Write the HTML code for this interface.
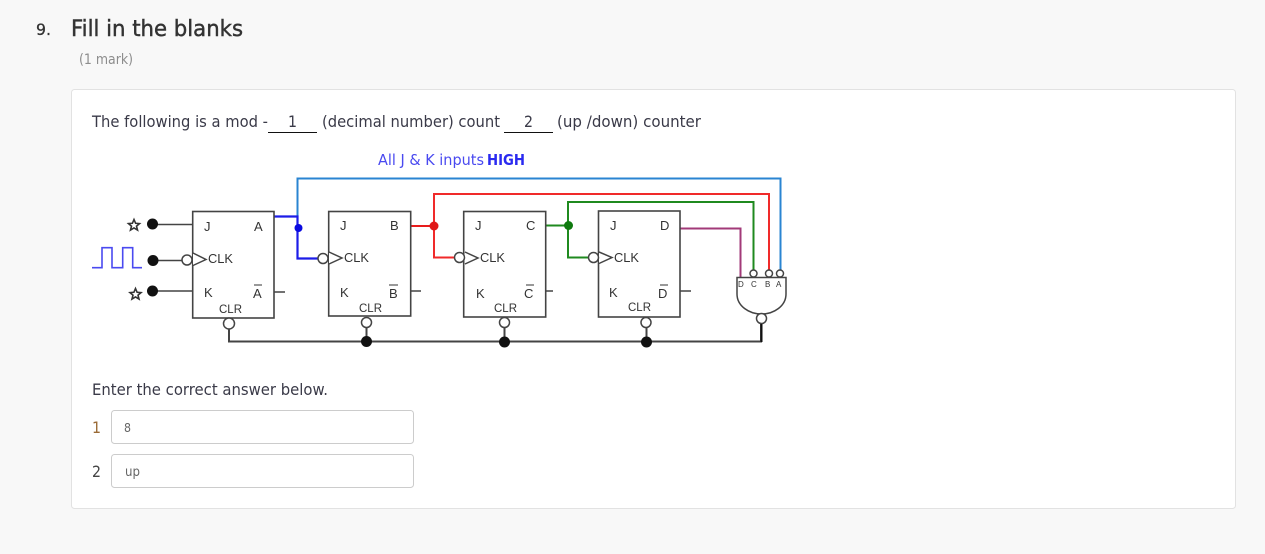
<!DOCTYPE html>
<html>
<head>
<meta charset="utf-8">
<style>
html,body{margin:0;padding:0;width:1265px;height:554px;overflow:hidden;background:#f8f8f8}
svg{display:block}
.u{font-family:"DejaVu Sans",sans-serif}
.d{font-family:"Liberation Sans",sans-serif;fill:#333}
</style>
</head>
<body>
<svg width="1265" height="554" viewBox="0 0 1265 554" xmlns="http://www.w3.org/2000/svg">
<rect width="1265" height="554" fill="#f8f8f8"/>
<rect x="71.5" y="89.5" width="1164" height="419" rx="3" fill="#fff" stroke="#e2e2e2"/>

<line x1="268" y1="132.5" x2="317" y2="132.5" stroke="#111" stroke-width="1"/>
<line x1="504" y1="132.5" x2="553" y2="132.5" stroke="#111" stroke-width="1"/>
<rect x="111.5" y="410.5" width="302" height="33" rx="3" fill="#fff" stroke="#ccc"/>
<rect x="111.5" y="454.5" width="302" height="33" rx="3" fill="#fff" stroke="#ccc"/>

<g class="u">
<text x="36" y="35" font-size="16" fill="#333" stroke="#333" stroke-width="0.3" textLength="15" lengthAdjust="spacingAndGlyphs">9.</text>
<text x="71" y="36" font-size="22" fill="#333" stroke="#333" stroke-width="0.45" textLength="172" lengthAdjust="spacingAndGlyphs">Fill in the blanks</text>
<text x="79" y="64" font-size="14" fill="#8d8d8d" textLength="54" lengthAdjust="spacingAndGlyphs">(1 mark)</text>
<text x="92" y="127" font-size="16" fill="#3a3a48" textLength="176" lengthAdjust="spacingAndGlyphs">The following is a mod -</text>
<text x="288" y="127" font-size="16" fill="#3a3a48" textLength="9" lengthAdjust="spacingAndGlyphs">1</text>
<text x="322" y="127" font-size="16" fill="#3a3a48" textLength="178" lengthAdjust="spacingAndGlyphs">(decimal number) count</text>
<text x="524" y="127" font-size="16" fill="#3a3a48" textLength="9" lengthAdjust="spacingAndGlyphs">2</text>
<text x="557" y="127" font-size="16" fill="#3a3a48" textLength="144" lengthAdjust="spacingAndGlyphs">(up /down) counter</text>
<text x="378" y="165" font-size="15" fill="#4a4af0" textLength="106" lengthAdjust="spacingAndGlyphs">All J &amp; K inputs</text>
<text x="487" y="165" font-size="15" fill="#2a2af0" font-weight="bold" textLength="38" lengthAdjust="spacingAndGlyphs">HIGH</text>
<text x="92" y="395" font-size="16" fill="#3a3a48" textLength="236" lengthAdjust="spacingAndGlyphs">Enter the correct answer below.</text>
<text x="92" y="433" font-size="16" fill="#9a6a35" textLength="9" lengthAdjust="spacingAndGlyphs">1</text>
<text x="92" y="477" font-size="16" fill="#444" textLength="9" lengthAdjust="spacingAndGlyphs">2</text>
<text x="124" y="432" font-size="12" fill="#666" textLength="7" lengthAdjust="spacingAndGlyphs">8</text>
<text x="125" y="476" font-size="13" fill="#666" textLength="15" lengthAdjust="spacingAndGlyphs">up</text>
</g>

<!-- wires -->
<g fill="none" stroke-width="2">
<path d="M297.5 216V178.5H780.5V270" stroke="#2a84d2"/>
<path d="M274 216.5H297.5V258.5H318" stroke="#1c1ce8" stroke-width="2.2"/>
<path d="M411 226H434" stroke="#e81c1c"/>
<path d="M434 226V194H769V270M434 226V257.5H454" stroke="#f02a2a"/>
<path d="M546 225.5H568" stroke="#1f8a1f"/>
<path d="M568 225.5V202H753.5V270M568 225.5V257.5H589" stroke="#1f8a1f"/>
<path d="M680 228.5H740.5V277" stroke="#a23a78"/>
<path d="M229 324V341.5H761V324" stroke="#444"/>
<path d="M366.5 326V341M504.5 327V341M646.5 327V341" stroke="#444"/>
<path d="M153 224.5H193M153 260.5H183M153 291H192" stroke="#444" stroke-width="1.5"/>
<path d="M273 292H285M410 291H421M541 291H553M680 291H691" stroke="#444" stroke-width="1.5"/>
<path d="M92 267.7H102V247.7H112V267.7H122.7V247.7H132.7V267.7H142" stroke="#4a4af0" stroke-width="1.6"/>
</g>

<!-- stars -->
<g fill="#fff" stroke="#333" stroke-width="1.6" stroke-linejoin="miter">
<polygon points="134,219.5 135.6,223.3 139.5,223.6 136.5,226.2 137.5,230 134,227.9 130.5,230 131.5,226.2 128.5,223.6 132.4,223.3"/>
<polygon points="135.5,288.5 137.1,292.3 141,292.6 138,295.2 139,299 135.5,296.9 132,299 133,295.2 130,292.6 133.9,292.3"/>
</g>

<!-- boxes -->
<g fill="#fff" stroke="#444" stroke-width="1.6">
<rect x="192.7" y="211.5" width="81.3" height="106.5"/>
<rect x="328.7" y="211.5" width="82" height="104.5"/>
<rect x="463.7" y="211.5" width="82" height="105.5"/>
<rect x="598.5" y="211" width="81.5" height="106"/>
</g>

<!-- clk triangles and bubbles -->
<g fill="#fff" stroke="#444" stroke-width="1.5">
<path d="M193 253L206 259.5L193 265.5" />
<path d="M329 252L342 258L329 264"/>
<path d="M465 252L478 258L465 264"/>
<path d="M599 252L612 257.5L599 263.5"/>
<circle cx="187" cy="260" r="5"/>
<circle cx="323" cy="258.5" r="5"/>
<circle cx="459.5" cy="257.5" r="5"/>
<circle cx="593.5" cy="257.5" r="5"/>
<circle cx="229" cy="323.5" r="5.5"/>
<circle cx="366.5" cy="322.5" r="5"/>
<circle cx="504.5" cy="322.5" r="5"/>
<circle cx="646" cy="322.5" r="5"/>
<circle cx="753.5" cy="273.5" r="3.5"/>
<circle cx="769" cy="273.5" r="3.5"/>
<circle cx="780" cy="273.5" r="3.5"/>
<path d="M737 277.5H786V294C786 306 774 314 761.5 314C749 314 737 306 737 294Z"/>
<circle cx="761.5" cy="318.5" r="5"/>
</g>
<path d="M761.5 324V342" stroke="#111" stroke-width="2"/>

<!-- dots -->
<circle cx="152.5" cy="224" r="5.5" fill="#111"/>
<circle cx="153" cy="260.5" r="5.5" fill="#111"/>
<circle cx="152.5" cy="291" r="5.5" fill="#111"/>
<circle cx="298.5" cy="228" r="4" fill="#0a0ae0"/>
<circle cx="434" cy="226" r="4.5" fill="#e01818"/>
<circle cx="568.5" cy="225.5" r="4.5" fill="#0f7a0f"/>
<circle cx="366.5" cy="341.5" r="5.5" fill="#111"/>
<circle cx="504.5" cy="342" r="5.5" fill="#111"/>
<circle cx="646.5" cy="342" r="5.5" fill="#111"/>

<!-- labels -->
<g class="d" font-size="13">
<text x="204" y="231">J</text><text x="254" y="231">A</text>
<text x="340" y="230">J</text><text x="390" y="230">B</text>
<text x="475" y="230">J</text><text x="526" y="230">C</text>
<text x="610" y="230">J</text><text x="660" y="230">D</text>
<text x="204" y="297">K</text><text x="253" y="298">A</text>
<text x="340" y="297">K</text><text x="389" y="298">B</text>
<text x="476" y="298">K</text><text x="524" y="298">C</text>
<text x="609" y="297">K</text><text x="658" y="298">D</text>
</g>
<path d="M254 285H262M389 285H398M526 285H534M660 285H668" stroke="#333" stroke-width="1"/>
<g class="d" font-size="13">
<text x="208" y="263" textLength="25" lengthAdjust="spacingAndGlyphs">CLK</text>
<text x="344" y="262" textLength="25" lengthAdjust="spacingAndGlyphs">CLK</text>
<text x="480" y="262" textLength="25" lengthAdjust="spacingAndGlyphs">CLK</text>
<text x="614" y="262" textLength="25" lengthAdjust="spacingAndGlyphs">CLK</text>
</g>
<g class="d" font-size="11.5">
<text x="219" y="313" textLength="23" lengthAdjust="spacingAndGlyphs">CLR</text>
<text x="359" y="312" textLength="23" lengthAdjust="spacingAndGlyphs">CLR</text>
<text x="494" y="312" textLength="23" lengthAdjust="spacingAndGlyphs">CLR</text>
<text x="628" y="311" textLength="23" lengthAdjust="spacingAndGlyphs">CLR</text>
</g>
<g class="d" font-size="8">
<text x="738" y="287">D</text>
<text x="751" y="287">C</text>
<text x="765" y="287">B</text>
<text x="776" y="287">A</text>
</g>
</svg>
</body>
</html>
